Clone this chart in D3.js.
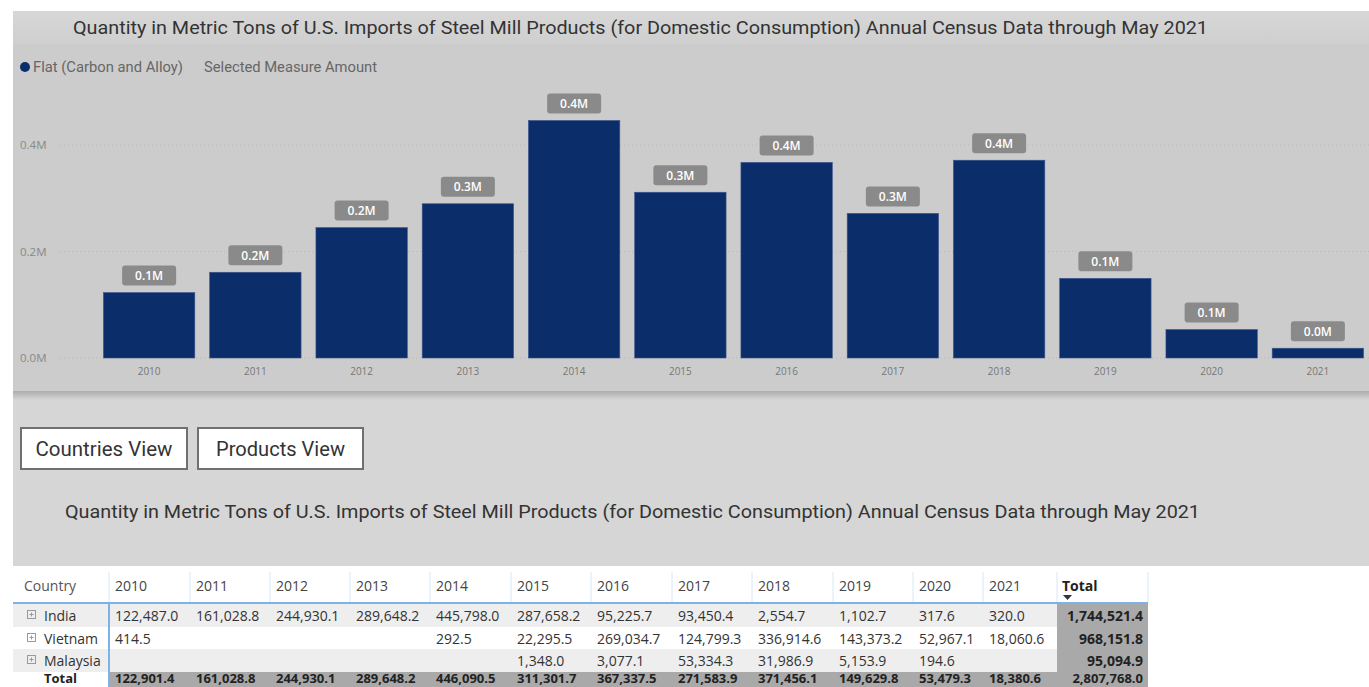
<!DOCTYPE html>
<html>
<head>
<meta charset="utf-8">
<script src="https://cdn.jsdelivr.net/npm/d3@7"></script>
<style>
  body { margin: 0; background: #ffffff; }
  svg { display: block; }
</style>
</head>
<body>
<svg id="page" width="1369" height="687"></svg>
<script>
// Data
const years = ["2010", "2011", "2012", "2013", "2014", "2015", "2016", "2017", "2018", "2019", "2020", "2021"];
const india    = [122487.0, 161028.8, 244930.1, 289648.2, 445798.0, 287658.2, 95225.7, 93450.4, 2554.7, 1102.7, 317.6, 320.0];
const vietnam  = [414.5, null, null, null, 292.5, 22295.5, 269034.7, 124799.3, 336914.6, 143373.2, 52967.1, 18060.6];
const malaysia = [null, null, null, null, null, 1348.0, 3077.1, 53334.3, 31986.9, 5153.9, 194.6, null];
const yearTotals = [122901.4, 161028.8, 244930.1, 289648.2, 446090.5, 311301.7, 367337.5, 271583.9, 371456.1, 149629.8, 53479.3, 18380.6];
const countryTotals = [1744521.4, 968151.8, 95094.9];
const grandTotal = 2807768.0;
const yTicks = [0, 200000, 400000];

const title = "Quantity in Metric Tons of U.S. Imports of Steel Mill Products (for Domestic Consumption) Annual Census Data through May 2021";

const svg = d3.select("#page");
const din = "Roboto, 'DejaVu Sans', sans-serif";
const segoe = "'Open Sans', 'Noto Sans', sans-serif";

// ---------- background panels ----------
svg.append("rect").attr("x", 13).attr("y", 400).attr("width", 1356).attr("height", 166).attr("fill", "#d6d6d6");

const defs = svg.append("defs");
const shadow = defs.append("linearGradient").attr("id", "shadow").attr("x1", 0).attr("x2", 0).attr("y1", 0).attr("y2", 1);
shadow.append("stop").attr("offset", "0%").attr("stop-color", "#a8a8a8");
shadow.append("stop").attr("offset", "100%").attr("stop-color", "#d6d6d6");
const band = defs.append("linearGradient").attr("id", "band").attr("x1", 0).attr("x2", 0).attr("y1", 0).attr("y2", 1);
band.append("stop").attr("offset", "0%").attr("stop-color", "#d7d7d7");
band.append("stop").attr("offset", "100%").attr("stop-color", "#cfcfcf");

svg.append("rect").attr("x", 13).attr("y", 390).attr("width", 1356).attr("height", 10).attr("fill", "url(#shadow)");
svg.append("rect").attr("x", 13).attr("y", 11).attr("width", 1356).attr("height", 380).attr("fill", "#cccccc");
svg.append("rect").attr("x", 13).attr("y", 11).attr("width", 1356).attr("height", 33).attr("fill", "url(#band)");

// ---------- chart title & legend ----------
svg.append("text")
  .attr("x", 73).attr("y", 34)
  .attr("textLength", 1135).attr("lengthAdjust", "spacingAndGlyphs")
  .style("font-family", din).style("font-size", "18px").style("fill", "#333333")
  .text(title);

svg.append("circle").attr("cx", 25).attr("cy", 67).attr("r", 5).attr("fill", "#0b2d6b");
svg.append("text").attr("x", 33).attr("y", 72)
  .attr("textLength", 150).attr("lengthAdjust", "spacingAndGlyphs")
  .style("font-family", din).style("font-size", "14px").style("fill", "#666666")
  .text("Flat (Carbon and Alloy)");
svg.append("text").attr("x", 204).attr("y", 72)
  .attr("textLength", 173).attr("lengthAdjust", "spacingAndGlyphs")
  .style("font-family", din).style("font-size", "14px").style("fill", "#666666")
  .text("Selected Measure Amount");

// ---------- bar chart ----------
const x = d3.scaleBand().domain(years).range([96, 1371]).paddingInner(0.14).paddingOuter(0.07);
const y = d3.scaleLinear().domain([0, 400000]).range([358, 145]);
const fmtM = d => (d / 1e6).toFixed(1) + "M";

const chart = svg.append("g");

chart.selectAll(".grid")
  .data(yTicks)
  .enter().append("line")
  .attr("x1", 60).attr("x2", 1369)
  .attr("y1", d => y(d)).attr("y2", d => y(d))
  .attr("stroke", "#b8b8b8").attr("stroke-dasharray", "1,3");

chart.selectAll(".ytick")
  .data(yTicks)
  .enter().append("text")
  .attr("x", 20).attr("y", d => y(d)).attr("dy", "0.35em")
  .style("font-family", segoe).style("font-size", "11.5px").style("fill", "#888888")
  .text(fmtM);

chart.selectAll(".bar")
  .data(yearTotals)
  .enter().append("rect")
  .attr("x", (d, i) => x(years[i]))
  .attr("y", d => y(d))
  .attr("width", x.bandwidth())
  .attr("height", d => y(0) - y(d))
  .attr("fill", "#0b2d69")
  .attr("stroke", "#3a5690").attr("stroke-width", 0.6);

chart.selectAll(".xtick")
  .data(years)
  .enter().append("text")
  .attr("x", d => x(d) + x.bandwidth() / 2).attr("y", 375)
  .attr("text-anchor", "middle")
  .style("font-family", segoe).style("font-size", "10px").style("fill", "#777777")
  .text(d => d);

const lbl = chart.selectAll(".lbl")
  .data(yearTotals)
  .enter().append("g")
  .attr("transform", (d, i) => `translate(${x(years[i]) + x.bandwidth() / 2},${y(d) - 17})`);
lbl.append("rect")
  .attr("x", -27).attr("y", -10).attr("width", 54).attr("height", 20).attr("rx", 3)
  .attr("fill", "#8a8a8a");
lbl.append("text")
  .attr("text-anchor", "middle").attr("dy", "0.36em")
  .style("font-family", segoe).style("font-size", "12px").style("font-weight", "600").style("fill", "#ffffff")
  .text(fmtM);

// ---------- buttons ----------
const buttons = [{ label: "Countries View", x: 21, w: 166, tw: 137 }, { label: "Products View", x: 198, w: 165, tw: 129 }];
const btn = svg.selectAll(".btn").data(buttons).enter().append("g");
btn.append("rect")
  .attr("x", d => d.x).attr("y", 428).attr("width", d => d.w).attr("height", 41)
  .attr("fill", "#ffffff").attr("stroke", "#707070").attr("stroke-width", 2);
btn.append("text")
  .attr("x", d => d.x + (d.w - d.tw) / 2).attr("y", 456)
  .attr("textLength", d => d.tw).attr("lengthAdjust", "spacingAndGlyphs")
  .style("font-family", din).style("font-size", "20px").style("fill", "#333333")
  .text(d => d.label);

svg.append("text")
  .attr("x", 65).attr("y", 518)
  .attr("textLength", 1135).attr("lengthAdjust", "spacingAndGlyphs")
  .style("font-family", din).style("font-size", "18px").style("fill", "#333333")
  .text(title);

// ---------- matrix table ----------
const colWidths = [96, 81, 80, 80, 80, 81, 80, 81, 80, 81, 80, 70, 74, 91];
const colEdges = [13];
colWidths.forEach(w => colEdges.push(colEdges[colEdges.length - 1] + w));
const tableRight = colEdges[colEdges.length - 1];

const rows = [
  { name: "India", values: india, total: countryTotals[0], bg: "#eeeeee" },
  { name: "Vietnam", values: vietnam, total: countryTotals[1], bg: "#ffffff" },
  { name: "Malaysia", values: malaysia, total: countryTotals[2], bg: "#eeeeee" }
];
const rowTop = [604, 627, 649, 672];
const rowH = [23, 22, 23, 22];
const fmtN = d3.format(",.1f");
const table = svg.append("g").style("font-family", segoe).style("font-size", "14px");

// header
table.append("text").attr("x", 24).attr("y", 591).style("fill", "#555555").text("Country");
years.forEach((yr, i) => {
  table.append("text").attr("x", colEdges[i + 1] + 6).attr("y", 591).style("fill", "#444444").text(yr);
});
table.append("text").attr("x", colEdges[13] + 5).attr("y", 591)
  .style("fill", "#222222").style("font-weight", "700").text("Total");
table.append("path")
  .attr("d", `M${colEdges[13] + 6},595 h9 l-4.5,5 z`).attr("fill", "#333333");
colEdges.slice(1).forEach(ex => {
  table.append("line").attr("x1", ex).attr("x2", ex).attr("y1", 572).attr("y2", 602)
    .attr("stroke", "#d6e8fa").attr("stroke-width", 1);
});

// body rows
rows.forEach((r, ri) => {
  table.append("rect").attr("x", 13).attr("y", rowTop[ri]).attr("width", colEdges[13] - 13).attr("height", rowH[ri])
    .attr("fill", r.bg);
  table.append("rect").attr("x", colEdges[13]).attr("y", rowTop[ri]).attr("width", colWidths[13]).attr("height", rowH[ri])
    .attr("fill", "#a9a9a9");
  const base = rowTop[ri] + 17;
  table.append("rect").attr("x", 27.5).attr("y", base - 10.5).attr("width", 8).attr("height", 8)
    .attr("fill", "none").attr("stroke", "#9a9a9a");
  table.append("path").attr("d", `M29.5,${base - 6.5}h4M31.5,${base - 8.5}v4`).attr("stroke", "#9a9a9a");
  table.append("text").attr("x", 44).attr("y", base).style("fill", "#333333").text(r.name);
  r.values.forEach((v, i) => {
    if (v === null) return;
    table.append("text").attr("x", colEdges[i + 1] + 6).attr("y", base).style("fill", "#333333").text(fmtN(v));
  });
  table.append("text").attr("x", tableRight - 5).attr("y", base).attr("text-anchor", "end")
    .style("fill", "#222222").style("font-weight", "700").text(fmtN(r.total));
});

// total row (sits at the bottom edge of the view)
table.append("rect").attr("x", colEdges[1]).attr("y", rowTop[3]).attr("width", tableRight - colEdges[1]).attr("height", 15)
  .attr("fill", "#a9a9a9");
const totalRow = table.append("g").style("font-size", "13px").style("font-weight", "700").style("fill", "#222222");
const totalBase = 683;
totalRow.append("text").attr("x", 44).attr("y", totalBase).text("Total");
yearTotals.forEach((v, i) => {
  totalRow.append("text").attr("x", colEdges[i + 1] + 6).attr("y", totalBase).text(fmtN(v));
});
totalRow.append("text").attr("x", tableRight - 5).attr("y", totalBase).attr("text-anchor", "end").text(fmtN(grandTotal));

// table rules
table.append("line").attr("x1", 13).attr("x2", tableRight).attr("y1", 603).attr("y2", 603)
  .attr("stroke", "#7fb0e6").attr("stroke-width", 2);
table.append("line").attr("x1", colEdges[1]).attr("x2", colEdges[1]).attr("y1", 603).attr("y2", 687)
  .attr("stroke", "#7fb0e6").attr("stroke-width", 2);
</script>
</body>
</html>
